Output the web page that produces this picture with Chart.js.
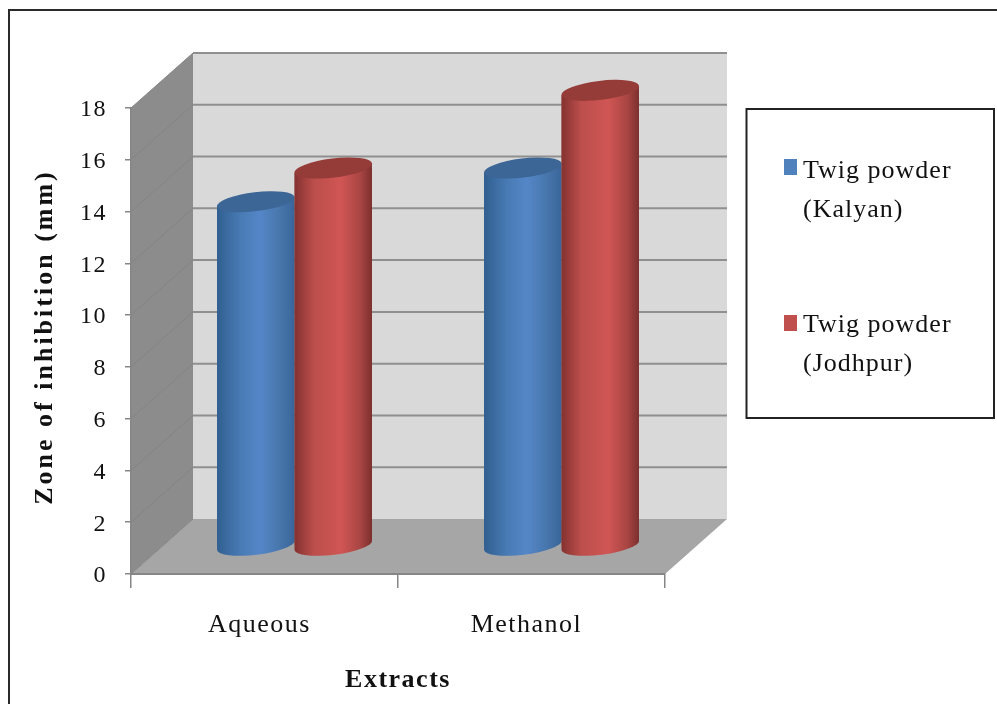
<!DOCTYPE html>
<html>
<head>
<meta charset="utf-8">
<title>Zone of inhibition</title>
<script src="https://cdn.jsdelivr.net/npm/chart.js@4"></script>
<style>
    html, body { margin: 0; padding: 0; background: #fff; overflow: hidden; }
    canvas { display: block; filter: blur(0.5px); }
</style>
</head>
<body>
<canvas id="chart" width="997" height="704"></canvas>
<script>
const categories = ["Aqueous", "Methanol"];
const kalyanValues = [13.3, 14.6];
const jodhpurValues = [14.6, 17.6];
const kalyanLegend = ["Twig powder", "(Kalyan)"];
const jodhpurLegend = ["Twig powder", "(Jodhpur)"];
const xAxisTitle = "Extracts";
const yAxisTitle = "Zone of inhibition (mm)";

const FONT = '"Liberation Serif", serif';
const TEXT = "#111";
const AXIS = "#868686";

// how far back the walls go, the bars stand about half way
const DEPTH_X = 62;
const DEPTH_Y = -55;
const BAR_SHIFT_X = 30;
const BAR_SHIFT_Y = -28;
const TILT = 0.12;
const CAP_RY = 9.5;

function barGradient(ctx, el, stops) {
    const g = ctx.createLinearGradient(el.x - el.width / 2, 0, el.x + el.width / 2, 0);
    stops.forEach(s => g.addColorStop(s[0], s[1]));
    return g;
}

function capRx(el) {
    return el.width / 2 / Math.cos(TILT);
}

// side of the cylinder, slanted at the top and round at the bottom
function bodyPath(el) {
    const rx = capRx(el);
    const rise = rx * Math.sin(TILT);
    const p = new Path2D();
    p.moveTo(el.x - el.width / 2, el.y + rise);
    p.lineTo(el.x + el.width / 2, el.y - rise);
    p.lineTo(el.x + el.width / 2, el.base - rise);
    p.ellipse(el.x, el.base, rx, CAP_RY, -TILT, 0, Math.PI);
    p.closePath();
    return p;
}

function drawCylinders(chart, index) {
    const { ctx } = chart;
    const meta = chart.getDatasetMeta(index);
    const ds = chart.data.datasets[index];
    const clip = new Path2D();

    ctx.save();
    ctx.translate(BAR_SHIFT_X, BAR_SHIFT_Y);

    ctx.save();
    meta.data.forEach(el => {
        const g = barGradient(ctx, el, ds.stops);
        el.options = { ...el.options, backgroundColor: g };
        ctx.fillStyle = g;
        const p = bodyPath(el);
        ctx.fill(p);
        clip.addPath(p);
    });
    // the rectangle from the library must not poke out of the round shape
    ctx.clip(clip);
    meta.controller.draw();
    ctx.restore();

    meta.data.forEach(el => {
        ctx.fillStyle = ds.capColor;
        ctx.beginPath();
        ctx.ellipse(el.x, el.y, capRx(el), CAP_RY, -TILT, 0, Math.PI * 2);
        ctx.fill();
    });
    ctx.restore();
}

const stage3d = {
    id: "stage3d",
    beforeDraw(chart) {
        const { ctx, chartArea: a, scales } = chart;
        ctx.letterSpacing = "1.5px";

        // outer frame, only top and left are inside the picture
        ctx.save();
        ctx.strokeStyle = "#2a2a2a";
        ctx.lineWidth = 2;
        ctx.beginPath();
        ctx.moveTo(9, 704);
        ctx.lineTo(9, 10);
        ctx.lineTo(997, 10);
        ctx.stroke();

        // back wall
        ctx.fillStyle = "#d9d9d9";
        ctx.fillRect(a.left + DEPTH_X, a.top + DEPTH_Y, a.right - a.left, a.bottom - a.top);

        // side wall
        ctx.fillStyle = "#8c8c8c";
        ctx.beginPath();
        ctx.moveTo(a.left, a.top);
        ctx.lineTo(a.left + DEPTH_X, a.top + DEPTH_Y);
        ctx.lineTo(a.left + DEPTH_X, a.bottom + DEPTH_Y);
        ctx.lineTo(a.left, a.bottom);
        ctx.closePath();
        ctx.fill();

        // floor
        ctx.fillStyle = "#a6a6a6";
        ctx.beginPath();
        ctx.moveTo(a.left, a.bottom);
        ctx.lineTo(a.left + DEPTH_X, a.bottom + DEPTH_Y);
        ctx.lineTo(a.right + DEPTH_X, a.bottom + DEPTH_Y);
        ctx.lineTo(a.right, a.bottom);
        ctx.closePath();
        ctx.fill();

        // grid lines on both walls
        scales.y.ticks.forEach(t => {
            const y = scales.y.getPixelForValue(t.value);
            if (t.value > 0) {
                ctx.strokeStyle = "#8f8f8f";
                ctx.lineWidth = 2;
                ctx.beginPath();
                ctx.moveTo(a.left + DEPTH_X, y + DEPTH_Y);
                ctx.lineTo(a.right + DEPTH_X, y + DEPTH_Y);
                ctx.stroke();
            }
            ctx.strokeStyle = "#848484";
            ctx.lineWidth = 1;
            ctx.beginPath();
            ctx.moveTo(a.left, y);
            ctx.lineTo(a.left + DEPTH_X, y + DEPTH_Y);
            ctx.stroke();
        });
        ctx.restore();
    },
    beforeDatasetsDraw(chart) {
        // red has to cover blue where they touch, chart.js would draw them the other way round
        chart.data.datasets.forEach((ds, i) => drawCylinders(chart, i));
        return false;
    },
    afterDraw(chart) {
        const { ctx } = chart;
        ctx.save();

        // y axis title, wider spacing than the other texts
        ctx.translate(45, 337);
        ctx.rotate(-Math.PI / 2);
        ctx.font = "bold 26px " + FONT;
        ctx.letterSpacing = "3px";
        ctx.fillStyle = TEXT;
        ctx.textAlign = "center";
        ctx.textBaseline = "middle";
        ctx.fillText(yAxisTitle, 0, 0);
        ctx.restore();

        // legend box
        ctx.save();
        ctx.strokeStyle = "#222";
        ctx.lineWidth = 2;
        ctx.strokeRect(746.5, 109, 247.5, 309);
        ctx.font = "26px " + FONT;
        ctx.letterSpacing = "1px";
        ctx.textBaseline = "alphabetic";
        ctx.textAlign = "left";
        [[kalyanLegend, "#4f81bd", 159, 178], [jodhpurLegend, "#c0504d", 315, 332]].forEach(item => {
            ctx.fillStyle = item[1];
            ctx.fillRect(784, item[2], 13, 16);
            ctx.fillStyle = TEXT;
            ctx.fillText(item[0][0], 803, item[3]);
            ctx.fillText(item[0][1], 803, item[3] + 39);
        });
        ctx.restore();
    }
};

new Chart(document.getElementById("chart"), {
    type: "bar",
    data: {
        labels: categories,
        datasets: [
            {
                label: kalyanLegend.join(" "),
                data: kalyanValues,
                backgroundColor: "#4f81bd",
                capColor: "#3c6696",
                stops: [[0, "#315f90"], [0.3, "#487ab4"], [0.55, "#5587c8"], [0.8, "#4877ad"], [1, "#39659a"]]
            },
            {
                label: jodhpurLegend.join(" "),
                data: jodhpurValues,
                backgroundColor: "#c0504d",
                capColor: "#953c39",
                stops: [[0, "#843230"], [0.25, "#bb4e4b"], [0.6, "#d05654"], [0.85, "#a84543"], [1, "#7c302e"]]
            }
        ]
    },
    options: {
        responsive: false,
        animation: false,
        categoryPercentage: 0.58,
        barPercentage: 1,
        layout: { padding: { top: 108, right: 332, left: 0, bottom: 0 } },
        plugins: { legend: { display: false }, tooltip: { enabled: false } },
        scales: {
            x: {
                afterFit: s => { s.height = 130; },
                grid: { drawOnChartArea: false, color: AXIS, tickLength: 14, lineWidth: 1.5 },
                border: { color: AXIS, width: 2 },
                ticks: { color: TEXT, padding: 22, labelOffset: -5, maxRotation: 0, font: { family: FONT, size: 26 } },
                title: {
                    display: true,
                    text: xAxisTitle,
                    color: TEXT,
                    padding: { top: 0, bottom: 8 },
                    font: { family: FONT, size: 26, weight: "bold" }
                }
            },
            y: {
                min: 0,
                max: 18,
                afterFit: s => { s.width = 131; },
                grid: { drawOnChartArea: false, color: AXIS, tickLength: 6, lineWidth: 1.5 },
                border: { color: AXIS, width: 1.5 },
                ticks: { stepSize: 2, color: TEXT, padding: 18, labelOffset: 2, font: { family: FONT, size: 24 } }
            }
        }
    },
    plugins: [stage3d]
});
</script>
</body>
</html>
